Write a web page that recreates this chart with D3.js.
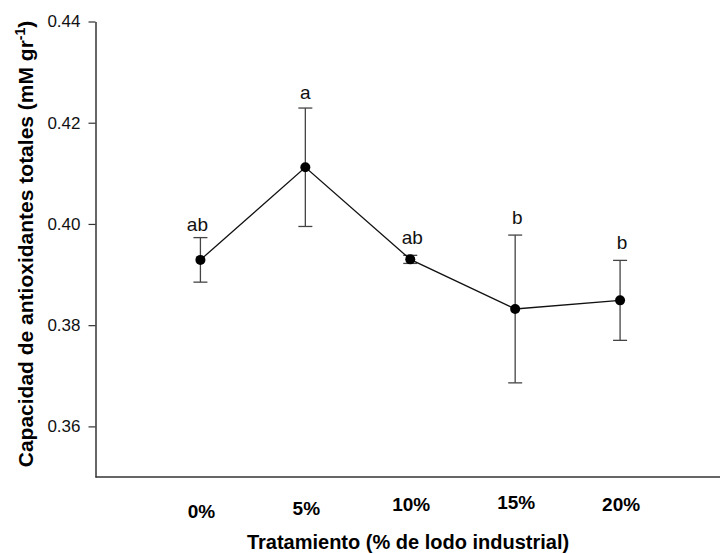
<!DOCTYPE html>
<html>
<head>
<meta charset="utf-8">
<script src="https://cdn.jsdelivr.net/npm/d3@7"></script>
<style>
  body { margin: 0; background: #fff; }
  svg { display: block; font-family: "Liberation Sans", Arial, sans-serif; }
</style>
</head>
<body>
<script>
// data
const treatments = ["0%", "5%", "10%", "15%", "20%"];
const means = [0.3929, 0.4112, 0.3930, 0.3832, 0.3849];
const errors = [0.0044, 0.0117, 0.0008, 0.0146, 0.0079];
const letters = ["ab", "a", "ab", "b", "b"];
const yTicks = [0.36, 0.38, 0.40, 0.42, 0.44];

const width = 720;
const height = 554;

const svg = d3.select("body").append("svg")
  .attr("width", width)
  .attr("height", height);

// x positions 1..5, axis starts at 0
const xScale = d3.scaleLinear()
  .domain([0, 6])
  .range([95.5, 725]);

const yScale = d3.scaleLinear()
  .domain([0.35, 0.44])
  .range([477, 21.5]);

// y axis
svg.append("g")
  .attr("transform", `translate(${xScale(0)},0)`)
  .call(d3.axisLeft(yScale).tickValues(yTicks).tickFormat(d3.format(".2f")).tickSize(7).tickSizeOuter(0).tickPadding(8))
  .call(g => g.select(".domain").attr("stroke", "#333").attr("stroke-width", 1.5))
  .call(g => g.selectAll(".tick line").attr("stroke", "#333").attr("stroke-width", 1.2))
  .call(g => g.selectAll(".tick text").attr("font-size", 17).attr("fill", "#111").attr("font-family", null));

// x axis, line only
svg.append("line")
  .attr("x1", xScale(0)).attr("x2", width)
  .attr("y1", yScale(0.35)).attr("y2", yScale(0.35))
  .attr("stroke", "#333")
  .attr("stroke-width", 1.5);

// category labels sit slightly staggered in the original
const tickDy = [0, -3, -7, -9, -7];
svg.append("g")
  .selectAll("text")
  .data(treatments)
  .join("text")
    .attr("x", (d, i) => xScale(i + 1) + 1)
    .attr("y", (d, i) => 518 + tickDy[i])
    .attr("text-anchor", "middle")
    .attr("font-size", 19)
    .attr("font-weight", "bold")
    .text(d => d);

// axis titles
svg.append("text")
  .attr("x", 408)
  .attr("y", 549)
  .attr("text-anchor", "middle")
  .attr("font-size", 20)
  .attr("font-weight", "bold")
  .text("Tratamiento (% de lodo industrial)");

const yTitle = svg.append("text")
  .attr("transform", "translate(33,244) rotate(-90)")
  .attr("text-anchor", "middle")
  .attr("font-size", 21)
  .attr("font-weight", "bold");
yTitle.append("tspan").text("Capacidad de antioxidantes totales (mM gr");
yTitle.append("tspan").attr("font-size", 14).attr("dy", -8).text("-1");
yTitle.append("tspan").attr("dy", 8).text(")");

// error bars
const bars = svg.append("g")
  .attr("stroke", "#444")
  .attr("stroke-width", 1.3)
  .selectAll("g")
  .data(means)
  .join("g");

bars.append("line")
  .attr("x1", (d, i) => xScale(i + 1))
  .attr("x2", (d, i) => xScale(i + 1))
  .attr("y1", (d, i) => yScale(d + errors[i]))
  .attr("y2", (d, i) => yScale(d - errors[i]));

bars.append("line")
  .attr("x1", (d, i) => xScale(i + 1) - 7)
  .attr("x2", (d, i) => xScale(i + 1) + 7)
  .attr("y1", (d, i) => yScale(d + errors[i]))
  .attr("y2", (d, i) => yScale(d + errors[i]));

bars.append("line")
  .attr("x1", (d, i) => xScale(i + 1) - 7)
  .attr("x2", (d, i) => xScale(i + 1) + 7)
  .attr("y1", (d, i) => yScale(d - errors[i]))
  .attr("y2", (d, i) => yScale(d - errors[i]));

// connecting line
const line = d3.line()
  .x((d, i) => xScale(i + 1))
  .y(d => yScale(d));

svg.append("path")
  .datum(means)
  .attr("fill", "none")
  .attr("stroke", "#111")
  .attr("stroke-width", 1.3)
  .attr("d", line);

svg.append("g")
  .selectAll("circle")
  .data(means)
  .join("circle")
    .attr("cx", (d, i) => xScale(i + 1))
    .attr("cy", d => yScale(d))
    .attr("r", 5)
    .attr("fill", "#000");

// significance letters, above the upper error cap
const letterGap = [7, 9, 11, 11, 11];
svg.append("g")
  .selectAll("text")
  .data(letters)
  .join("text")
    .attr("x", (d, i) => xScale(i + 1) - (i === 0 ? 3 : 0) + (i > 1 ? 2 : 0))
    .attr("y", (d, i) => yScale(means[i] + errors[i]) - letterGap[i])
    .attr("text-anchor", "middle")
    .attr("font-size", 19)
    .attr("fill", "#111")
    .text(d => d);
</script>
</body>
</html>
